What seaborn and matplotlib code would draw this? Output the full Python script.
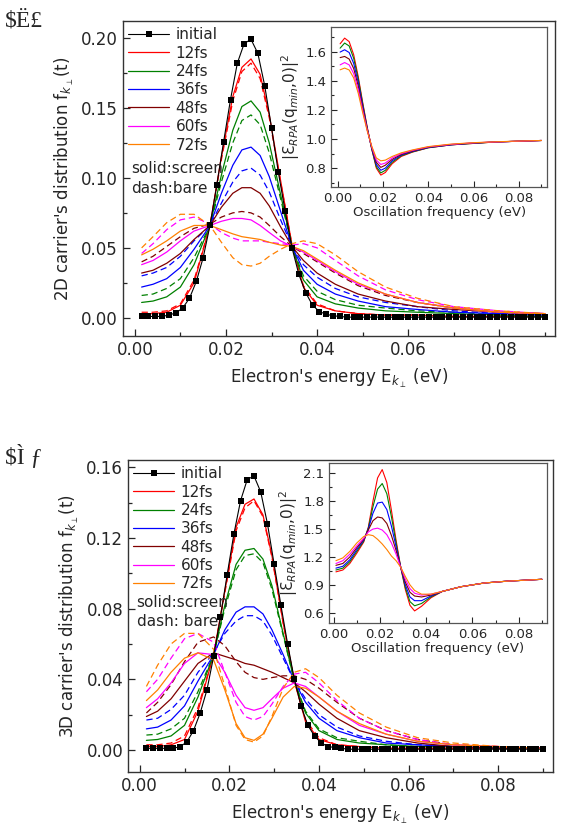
import numpy as np
import pandas as pd
import matplotlib
matplotlib.use("Agg")
import matplotlib.pyplot as plt
from matplotlib.lines import Line2D
from matplotlib.ticker import MultipleLocator
import seaborn as sns

# Energy grids (eV)
E_INIT = [round(0.0015 * k, 4) for k in range(1, 61)]
E_GRID = [0.0015, 0.004, 0.007, 0.010, 0.013, 0.0165, 0.019, 0.0215, 0.0235, 0.0255,
          0.0275, 0.0295, 0.032, 0.0345, 0.037, 0.040, 0.044, 0.049, 0.055, 0.062,
          0.070, 0.080, 0.090]

TIMES = ["12fs", "24fs", "36fs", "48fs", "60fs", "72fs"]
COLORS = ["#ff0000", "#008000", "#0000ff", "#800000", "#ff00ff", "#ff8000"]

# ---- 2D panel ----
INIT_2D = [0.001, 0.001, 0.001, 0.001, 0.002, 0.0035, 0.007, 0.014, 0.026, 0.043,
           0.066, 0.095, 0.126, 0.156, 0.182, 0.196, 0.199, 0.189, 0.166, 0.136,
           0.104, 0.076, 0.050, 0.031, 0.018, 0.009, 0.0045, 0.0025, 0.0015, 0.001] + [0.0005] * 30

S2D_12 = [0.003, 0.003, 0.004, 0.009, 0.025, 0.066, 0.115, 0.158, 0.179, 0.185, 0.174, 0.145,
          0.098, 0.052, 0.022, 0.009, 0.005, 0.003, 0.002, 0.002, 0.001, 0.001, 0.001]
B2D_12 = [0.004, 0.004, 0.005, 0.010, 0.027, 0.066, 0.113, 0.155, 0.176, 0.182, 0.171, 0.143,
          0.097, 0.052, 0.023, 0.010, 0.005, 0.003, 0.002, 0.002, 0.001, 0.001, 0.001]
S2D_24 = [0.011, 0.012, 0.015, 0.022, 0.038, 0.066, 0.102, 0.134, 0.151, 0.155, 0.147, 0.125,
          0.088, 0.051, 0.027, 0.015, 0.010, 0.007, 0.005, 0.004, 0.003, 0.002, 0.001]
B2D_24 = [0.016, 0.017, 0.021, 0.028, 0.043, 0.066, 0.097, 0.125, 0.141, 0.145, 0.138, 0.118,
          0.085, 0.051, 0.030, 0.019, 0.013, 0.009, 0.007, 0.005, 0.004, 0.002, 0.002]
S2D_36 = [0.022, 0.024, 0.028, 0.036, 0.049, 0.066, 0.089, 0.109, 0.120, 0.122, 0.116, 0.101,
          0.076, 0.051, 0.034, 0.024, 0.017, 0.012, 0.008, 0.006, 0.004, 0.003, 0.002]
B2D_36 = [0.030, 0.032, 0.036, 0.044, 0.055, 0.066, 0.082, 0.097, 0.105, 0.107, 0.102, 0.090,
          0.070, 0.051, 0.038, 0.029, 0.021, 0.015, 0.011, 0.008, 0.005, 0.003, 0.002]
S2D_48 = [0.032, 0.034, 0.039, 0.046, 0.056, 0.066, 0.079, 0.089, 0.093, 0.093, 0.089, 0.080,
          0.065, 0.051, 0.041, 0.032, 0.024, 0.017, 0.012, 0.008, 0.006, 0.004, 0.003]
B2D_48 = [0.040, 0.044, 0.051, 0.058, 0.064, 0.067, 0.072, 0.075, 0.076, 0.075, 0.072, 0.066,
          0.058, 0.051, 0.046, 0.040, 0.032, 0.023, 0.016, 0.011, 0.007, 0.004, 0.003]
S2D_60 = [0.038, 0.041, 0.047, 0.055, 0.062, 0.066, 0.069, 0.071, 0.071, 0.070, 0.066, 0.061,
          0.055, 0.051, 0.047, 0.041, 0.033, 0.024, 0.017, 0.011, 0.007, 0.004, 0.003]
B2D_60 = [0.046, 0.053, 0.063, 0.070, 0.072, 0.067, 0.061, 0.057, 0.055, 0.055, 0.055, 0.054,
          0.053, 0.052, 0.053, 0.050, 0.041, 0.030, 0.020, 0.013, 0.008, 0.005, 0.003]
S2D_72 = [0.045, 0.049, 0.055, 0.062, 0.066, 0.066, 0.063, 0.060, 0.058, 0.057, 0.056, 0.054,
          0.052, 0.051, 0.048, 0.042, 0.034, 0.025, 0.017, 0.011, 0.007, 0.004, 0.003]
B2D_72 = [0.050, 0.058, 0.068, 0.074, 0.074, 0.066, 0.054, 0.043, 0.038, 0.037, 0.039, 0.044,
          0.049, 0.053, 0.055, 0.053, 0.045, 0.033, 0.022, 0.014, 0.008, 0.005, 0.003]

# ---- 3D panel ----
INIT_3D = [0.001, 0.001, 0.001, 0.001, 0.001, 0.002, 0.0045, 0.011, 0.021, 0.034,
           0.053, 0.075, 0.099, 0.122, 0.141, 0.153, 0.155, 0.146, 0.128, 0.105,
           0.082, 0.060, 0.040, 0.025, 0.014, 0.008, 0.004, 0.002, 0.0015, 0.001] + [0.0005] * 30

S3D_12 = [0.002, 0.002, 0.003, 0.006, 0.022, 0.054, 0.090, 0.126, 0.139, 0.142, 0.133, 0.110,
          0.072, 0.039, 0.016, 0.006, 0.003, 0.002, 0.001, 0.001, 0.001, 0.001, 0.001]
B3D_12 = [0.003, 0.003, 0.004, 0.008, 0.024, 0.054, 0.089, 0.124, 0.137, 0.141, 0.132, 0.109,
          0.072, 0.039, 0.017, 0.007, 0.003, 0.002, 0.001, 0.001, 0.001, 0.001, 0.001]
S3D_24 = [0.0055, 0.006, 0.008, 0.014, 0.030, 0.054, 0.082, 0.105, 0.113, 0.114, 0.108, 0.093,
          0.066, 0.039, 0.021, 0.011, 0.006, 0.004, 0.003, 0.002, 0.002, 0.001, 0.001]
B3D_24 = [0.0085, 0.009, 0.012, 0.018, 0.033, 0.054, 0.080, 0.102, 0.110, 0.111, 0.106, 0.091,
          0.065, 0.039, 0.022, 0.012, 0.007, 0.005, 0.003, 0.002, 0.002, 0.001, 0.001]
S3D_36 = [0.012, 0.013, 0.017, 0.025, 0.039, 0.054, 0.068, 0.078, 0.081, 0.081, 0.077, 0.068,
          0.054, 0.039, 0.027, 0.018, 0.011, 0.007, 0.004, 0.003, 0.002, 0.001, 0.001]
B3D_36 = [0.017, 0.018, 0.023, 0.031, 0.044, 0.055, 0.066, 0.073, 0.076, 0.076, 0.073, 0.065,
          0.052, 0.039, 0.029, 0.020, 0.013, 0.008, 0.005, 0.003, 0.002, 0.001, 0.001]
S3D_48 = [0.019, 0.022, 0.029, 0.039, 0.049, 0.055, 0.053, 0.051, 0.049, 0.048, 0.046, 0.044,
          0.041, 0.038, 0.033, 0.026, 0.018, 0.011, 0.007, 0.004, 0.002, 0.001, 0.001]
B3D_48 = [0.021, 0.027, 0.037, 0.050, 0.061, 0.064, 0.059, 0.050, 0.044, 0.041, 0.040, 0.041,
          0.042, 0.042, 0.040, 0.035, 0.027, 0.018, 0.011, 0.006, 0.003, 0.002, 0.001]
S3D_60 = [0.024, 0.029, 0.038, 0.049, 0.055, 0.054, 0.044, 0.031, 0.024, 0.0225, 0.024, 0.029,
          0.035, 0.038, 0.036, 0.030, 0.022, 0.014, 0.009, 0.005, 0.003, 0.002, 0.001]
B3D_60 = [0.033, 0.040, 0.052, 0.063, 0.066, 0.061, 0.044, 0.027, 0.019, 0.017, 0.019, 0.026,
          0.036, 0.043, 0.044, 0.038, 0.028, 0.018, 0.011, 0.006, 0.003, 0.002, 0.001]
S3D_72 = [0.028, 0.034, 0.044, 0.052, 0.055, 0.051, 0.034, 0.015, 0.007, 0.0055, 0.009, 0.018,
          0.030, 0.036, 0.035, 0.030, 0.022, 0.015, 0.009, 0.005, 0.003, 0.002, 0.001]
B3D_72 = [0.036, 0.048, 0.060, 0.066, 0.066, 0.057, 0.036, 0.014, 0.006, 0.0045, 0.008, 0.019,
          0.035, 0.044, 0.046, 0.041, 0.031, 0.021, 0.013, 0.007, 0.004, 0.002, 0.001]

# ---- insets: |eps_RPA(q_min, w)|^2 ----
W_TOP = [0.001, 0.003, 0.005, 0.007, 0.009, 0.011, 0.013, 0.015, 0.017, 0.019,
         0.021, 0.024, 0.028, 0.033, 0.040, 0.050, 0.060, 0.070, 0.080, 0.090]
EPS2D_12 = [1.655, 1.694, 1.67, 1.58, 1.43, 1.25, 1.08, 0.93, 0.80, 0.752,
            0.77, 0.83, 0.88, 0.91, 0.94, 0.96, 0.97, 0.98, 0.985, 0.99]
EPS2D_24 = [1.625, 1.66, 1.64, 1.555, 1.415, 1.24, 1.075, 0.93, 0.81, 0.767,
            0.785, 0.84, 0.885, 0.912, 0.94, 0.96, 0.97, 0.98, 0.985, 0.99]
EPS2D_36 = [1.598, 1.614, 1.595, 1.52, 1.39, 1.225, 1.07, 0.935, 0.825, 0.785,
            0.80, 0.85, 0.89, 0.915, 0.942, 0.96, 0.972, 0.98, 0.985, 0.99]
EPS2D_48 = [1.56, 1.568, 1.55, 1.485, 1.365, 1.21, 1.065, 0.94, 0.84, 0.805,
            0.82, 0.86, 0.895, 0.918, 0.944, 0.962, 0.973, 0.98, 0.985, 0.99]
EPS2D_60 = [1.51, 1.526, 1.51, 1.45, 1.34, 1.195, 1.06, 0.945, 0.855, 0.825,
            0.835, 0.87, 0.90, 0.922, 0.946, 0.963, 0.974, 0.98, 0.985, 0.99]
EPS2D_72 = [1.476, 1.488, 1.475, 1.42, 1.315, 1.18, 1.055, 0.95, 0.87, 0.85,
            0.855, 0.88, 0.905, 0.925, 0.948, 0.965, 0.975, 0.981, 0.986, 0.99]

W_BOT = [0.001, 0.004, 0.007, 0.010, 0.013, 0.015, 0.017, 0.019, 0.021, 0.023, 0.025, 0.027,
         0.029, 0.031, 0.033, 0.035, 0.038, 0.042, 0.047, 0.055, 0.065, 0.075, 0.090]
EPS3D_12 = [1.04, 1.06, 1.13, 1.24, 1.36, 1.52, 1.80, 2.05, 2.14, 2.00, 1.70, 1.38,
            1.09, 0.85, 0.68, 0.62, 0.67, 0.76, 0.83, 0.88, 0.92, 0.94, 0.96]
EPS3D_24 = [1.06, 1.08, 1.15, 1.26, 1.37, 1.51, 1.74, 1.93, 1.99, 1.88, 1.63, 1.35,
            1.09, 0.87, 0.72, 0.675, 0.70, 0.77, 0.83, 0.88, 0.92, 0.94, 0.96]
EPS3D_36 = [1.08, 1.10, 1.17, 1.28, 1.38, 1.50, 1.67, 1.78, 1.79, 1.71, 1.53, 1.31,
            1.09, 0.90, 0.77, 0.73, 0.73, 0.78, 0.83, 0.88, 0.92, 0.94, 0.96]
EPS3D_48 = [1.11, 1.13, 1.20, 1.30, 1.39, 1.49, 1.59, 1.63, 1.62, 1.56, 1.43, 1.27,
            1.09, 0.93, 0.82, 0.78, 0.77, 0.79, 0.83, 0.88, 0.92, 0.94, 0.96]
EPS3D_60 = [1.13, 1.16, 1.23, 1.32, 1.40, 1.47, 1.50, 1.51, 1.49, 1.44, 1.35, 1.23,
            1.09, 0.96, 0.86, 0.81, 0.79, 0.80, 0.83, 0.88, 0.92, 0.94, 0.96]
EPS3D_72 = [1.16, 1.19, 1.26, 1.35, 1.42, 1.44, 1.43, 1.39, 1.34, 1.28, 1.21, 1.16,
            1.09, 0.99, 0.90, 0.84, 0.80, 0.80, 0.83, 0.88, 0.92, 0.94, 0.96]


def long_frame(screen, bare):
    rows = []
    for t, s, b in zip(TIMES, screen, bare):
        for e, v in zip(E_GRID, s):
            rows.append((e, v, t, "screen"))
        for e, v in zip(E_GRID, b):
            rows.append((e, v, t, "bare"))
    return pd.DataFrame(rows, columns=["energy", "f", "time", "kind"])


def inset_frame(w, curves):
    rows = []
    for t, c in zip(TIMES, curves):
        for x, v in zip(w, c):
            rows.append((x, v, t))
    return pd.DataFrame(rows, columns=["w", "eps", "time"])


sns.set_style("ticks")
plt.rcParams["font.family"] = ["DejaVu Sans"]
plt.rcParams["mathtext.fontset"] = "dejavusans"
plt.rcParams["xtick.direction"] = "in"
plt.rcParams["ytick.direction"] = "in"

palette = dict(zip(TIMES, COLORS))
dashes = {"screen": "", "bare": (5, 3)}

fig = plt.figure(figsize=(5.64, 8.33), dpi=100)


def main_panel(rect, df, init, ylim, ymaj, ymin, ylab, note, note_y, legend_pos):
    ax = fig.add_axes(rect)
    sns.lineplot(data=df, x="energy", y="f", hue="time", style="kind", palette=palette,
                 dashes=dashes, estimator=None, legend=False, lw=0.9, ax=ax)
    sns.lineplot(x=E_INIT, y=init, color="black", lw=0.8, marker="s", markersize=4.5,
                 markeredgewidth=0, ax=ax)
    ax.set_xlim(-0.0026, 0.0922)
    ax.set_ylim(*ylim)
    ax.xaxis.set_major_locator(MultipleLocator(0.02))
    ax.xaxis.set_minor_locator(MultipleLocator(0.01))
    ax.yaxis.set_major_locator(MultipleLocator(ymaj))
    ax.yaxis.set_minor_locator(MultipleLocator(ymin))
    ax.xaxis.set_major_formatter(plt.FormatStrFormatter("%.2f"))
    ax.yaxis.set_major_formatter(plt.FormatStrFormatter("%.2f"))
    ax.tick_params(which="major", length=5, width=0.9, labelsize=12, top=False, right=False)
    ax.tick_params(which="minor", length=3, width=0.9, top=False, right=False)
    for sp in ax.spines.values():
        sp.set_color("#333333")
        sp.set_linewidth(1.0)
    ax.set_xlabel(r"Electron's energy E$_{k_\perp}$ (eV)", fontsize=12, labelpad=6)
    ax.set_ylabel(ylab, fontsize=12)

    handles = [Line2D([], [], color="black", lw=0.8, marker="s", markersize=4.5,
                      markeredgewidth=0, label="initial")]
    handles += [Line2D([], [], color=c, lw=0.9, label=t) for t, c in zip(TIMES, COLORS)]
    ax.legend(handles=handles, loc="upper left", bbox_to_anchor=legend_pos, frameon=False,
              fontsize=11, handlelength=2.7, handletextpad=0.4, labelspacing=0.22,
              borderaxespad=0.0, borderpad=0.2)
    for i, line in enumerate(note):
        ax.text(0.02, note_y[i], line, transform=ax.transAxes, fontsize=11, va="center")
    return ax


def inset_panel(rect, df, xlim, ylim, ymaj, ymin, yfmt, ylab):
    ax = fig.add_axes(rect)
    sns.lineplot(data=df, x="w", y="eps", hue="time", palette=palette, estimator=None,
                 legend=False, lw=0.8, ax=ax)
    ax.set_xlim(*xlim)
    ax.set_ylim(*ylim)
    ax.xaxis.set_major_locator(MultipleLocator(0.02))
    ax.xaxis.set_minor_locator(MultipleLocator(0.01))
    ax.yaxis.set_major_locator(MultipleLocator(ymaj))
    ax.yaxis.set_minor_locator(MultipleLocator(ymin))
    ax.xaxis.set_major_formatter(plt.FormatStrFormatter("%.2f"))
    ax.yaxis.set_major_formatter(plt.FormatStrFormatter(yfmt))
    ax.tick_params(which="major", length=4, width=0.8, labelsize=9.5, top=False, right=False)
    ax.tick_params(which="minor", length=2, width=0.8, top=False, right=False)
    for sp in ax.spines.values():
        sp.set_color("#555555")
        sp.set_linewidth(0.9)
    ax.set_xlabel("Oscillation frequency (eV)", fontsize=9.5, labelpad=1)
    ax.set_ylabel(ylab, fontsize=11, labelpad=2)
    return ax


ylab_eps = r"$|$Ɛ$_{RPA}$(q$_{min}$,0)$|^2$"

main_panel([0.218, 0.5966, 0.766, 0.378], long_frame(
    [S2D_12, S2D_24, S2D_36, S2D_48, S2D_60, S2D_72],
    [B2D_12, B2D_24, B2D_36, B2D_48, B2D_60, B2D_72]), INIT_2D,
    (-0.013, 0.212), 0.05, 0.025, r"2D carrier's distribution f$_{k_\perp}$(t)",
    ["solid:screen", "dash:bare"], [0.533, 0.47], (0.005, 0.99))

inset_panel([0.587, 0.7755, 0.383, 0.192], inset_frame(W_TOP,
    [EPS2D_12, EPS2D_24, EPS2D_36, EPS2D_48, EPS2D_60, EPS2D_72]),
    (-0.003, 0.0925), (0.67, 1.77), 0.2, 0.1, "%.1f", ylab_eps)

main_panel([0.227, 0.0732, 0.7535, 0.3745], long_frame(
    [S3D_12, S3D_24, S3D_36, S3D_48, S3D_60, S3D_72],
    [B3D_12, B3D_24, B3D_36, B3D_48, B3D_60, B3D_72]), INIT_3D,
    (-0.0124, 0.164), 0.04, 0.02, r"3D carrier's distribution f$_{k_\perp}$(t)",
    ["solid:screen", "dash: bare"], [0.545, 0.484], (0.005, 0.99))

inset_panel([0.5833, 0.2521, 0.3865, 0.192], inset_frame(W_BOT,
    [EPS3D_12, EPS3D_24, EPS3D_36, EPS3D_48, EPS3D_60, EPS3D_72]),
    (-0.002, 0.0922), (0.49, 2.21), 0.3, 0.15, "%.1f", ylab_eps)

fig.text(0.008, 0.975, r"\$Ë£", fontsize=17, family=["Liberation Serif", "DejaVu Serif"],
         va="center")
fig.text(0.008, 0.452, r"\$Ì ƒ", fontsize=17, family=["Liberation Serif", "DejaVu Serif"],
         va="center")

fig.savefig("out.png", dpi=100)
